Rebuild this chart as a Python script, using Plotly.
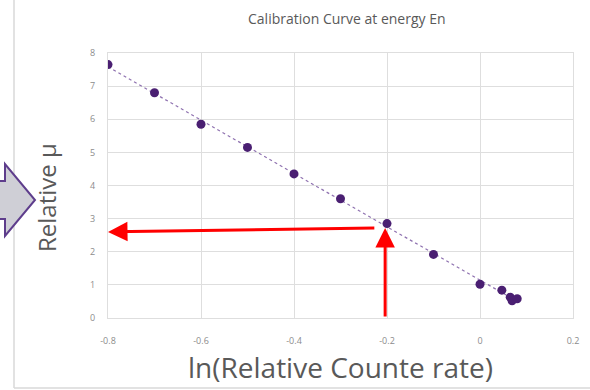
import numpy as np
import plotly.graph_objects as go

# Data
ln_rate = [-0.8, -0.7, -0.6, -0.5, -0.4, -0.3, -0.2, -0.1, 0.0, 0.047, 0.065, 0.069, 0.08]
rel_mu = [7.65, 6.8, 5.85, 5.15, 4.35, 3.6, 2.85, 1.92, 1.02, 0.84, 0.63, 0.52, 0.58]
x_ticks = [-0.8, -0.6, -0.4, -0.2, 0, 0.2]
x_tick_labels = ["-0.8", "-0.6", "-0.4", "-0.2", "0", "0.2"]
y_ticks = [0, 1, 2, 3, 4, 5, 6, 7, 8]

# linear trendline (Excel-style)
slope, intercept = np.polyfit(ln_rate, rel_mu, 1)
trend_x = [min(ln_rate), max(ln_rate)]
trend_y = [slope * v + intercept for v in trend_x]

W, H = 590, 390
L, R, T, B = 108, 17, 53, 72
pw, ph = W - L - R, H - T - B


def px(x):
    return (x - L) / pw


def py(y):
    return (H - B - y) / ph


FONT = "Open Sans"
fig = go.Figure()
fig.add_trace(go.Scatter(x=trend_x, y=trend_y, mode="lines",
                         line=dict(color="#8f72b0", width=1.2, dash="dot"),
                         hoverinfo="skip", showlegend=False))
fig.add_trace(go.Scatter(x=ln_rate, y=rel_mu, mode="markers",
                         marker=dict(color="#4a1f72", size=9),
                         showlegend=False))

# red arrows
arrows = [
    dict(x=-0.204, y=2.72, ax=-0.204, ay=0.0),
    dict(x=-0.8, y=2.6, ax=-0.224, ay=2.72),
]
for a in arrows:
    fig.add_annotation(x=a["x"], y=a["y"], ax=a["ax"], ay=a["ay"], xref="x", yref="y",
                       axref="x", ayref="y", text="", showarrow=True,
                       arrowhead=2, arrowsize=1.3, arrowwidth=3, arrowcolor="#ff0000",
                       standoff=0, startstandoff=0)

# titles
fig.add_annotation(x=px(347), y=py(18), xref="paper", yref="paper",
                   xanchor="center", yanchor="middle",
                   text="Calibration Curve at energy En", showarrow=False,
                   font=dict(family=FONT, size=14, color="#595959"))
fig.add_annotation(x=px(340), y=py(367), xref="paper", yref="paper",
                   xanchor="center", yanchor="middle",
                   text="ln(Relative Counte rate)", showarrow=False,
                   font=dict(family=FONT, size=28, color="#595959"))
fig.add_annotation(x=px(46), y=py(198), xref="paper", yref="paper",
                   xanchor="center", yanchor="middle",
                   text="Relative μ", showarrow=False, textangle=-90,
                   font=dict(family=FONT, size=24, color="#595959"))

# frame lines and left block arrow
fig.add_shape(type="line", xref="paper", yref="paper",
              x0=px(14), x1=px(14), y0=py(0), y1=py(388),
              line=dict(color="#d9d9d9", width=1.5))
fig.add_shape(type="line", xref="paper", yref="paper",
              x0=px(14), x1=px(595), y0=py(388), y1=py(388),
              line=dict(color="#d9d9d9", width=1.5))
pts = [(-5, 181), (5, 181), (5, 164), (35, 200), (5, 236), (5, 219), (-5, 219)]
path = "M " + " L ".join(f"{px(a):.4f},{py(b):.4f}" for a, b in pts) + " Z"
fig.add_shape(type="path", xref="paper", yref="paper", path=path,
              fillcolor="#cfcfd6", line=dict(color="#5e3d8c", width=2))

fig.update_xaxes(range=[-0.8, 0.2], tickvals=x_ticks, ticktext=x_tick_labels,
                 showgrid=True, gridcolor="#dedede", gridwidth=1, zeroline=False,
                 showline=True, linecolor="#dedede", mirror=True,
                 ticks="outside", ticklen=14, tickcolor="rgba(0,0,0,0)",
                 tickfont=dict(family=FONT, size=9, color="#8c8c8c"))
fig.update_yaxes(range=[0, 8], tickvals=y_ticks,
                 showgrid=True, gridcolor="#dedede", gridwidth=1, zeroline=False,
                 showline=True, linecolor="#dedede", mirror=True,
                 ticks="outside", ticklen=10, tickcolor="rgba(0,0,0,0)",
                 tickfont=dict(family=FONT, size=9, color="#8c8c8c"))

fig.update_layout(width=W, height=H, margin=dict(l=L, r=R, t=T, b=B),
                  paper_bgcolor="white", plot_bgcolor="white", showlegend=False)

fig.write_html("out.html")
